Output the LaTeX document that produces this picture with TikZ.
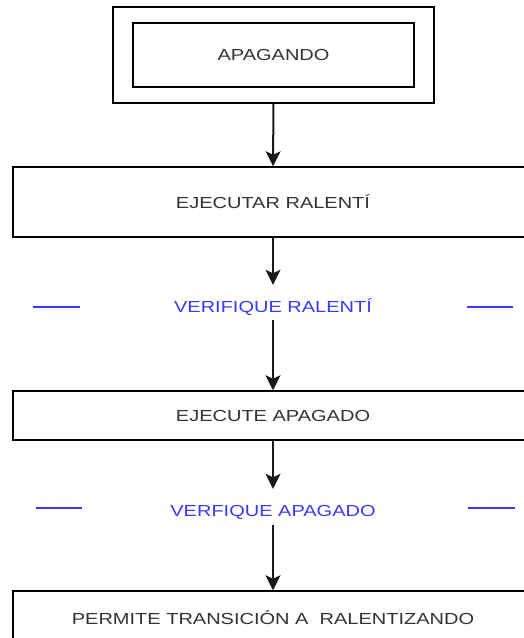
\documentclass[tikz,border=0pt]{standalone}
\usepackage{fontspec}
\setmainfont{Liberation Sans}
\usetikzlibrary{arrows.meta}
\definecolor{txtgray}{HTML}{333333}
\definecolor{vblue}{HTML}{3A3AF5}
\newcommand{\wtxt}[1]{\scalebox{1.25}[1]{#1}}
\tikzset{
  boxst/.style={draw=black, line width=1.5pt, fill=white, inner sep=0pt, text=txtgray, font=\fontsize{16pt}{17pt}\selectfont},
  lblst/.style={inner sep=0pt, text=vblue, font=\fontsize{16pt}{17pt}\selectfont},
  flow/.style={draw=black!90, line width=2pt, -{Stealth[width=15pt,length=15pt,inset=3.5pt]}},
  dashst/.style={draw=vblue, line width=2pt}
}
\begin{document}
\begin{tikzpicture}[x=1pt,y=-1pt]
\useasboundingbox (0,0) rectangle (524,638);
\clip (0,0) rectangle (524,638);
\node[boxst, minimum width=321pt, minimum height=96pt] (outer) at (273.5,55) {};
\node[boxst, minimum width=281pt, minimum height=64pt] (inner) at (273.5,55) {\wtxt{APAGANDO}};
\node[boxst, minimum width=520pt, minimum height=70pt] (run) at (273,202) {\wtxt{EJECUTAR RALENTÍ}};
\node[lblst, minimum height=35pt] (chk1) at (273,302.5) {};
\node[lblst] (chk1t) at (273,307) {\wtxt{VERIFIQUE RALENTÍ}};
\node[boxst, minimum width=520pt, minimum height=49pt] (off) at (273,415.5) {\wtxt{EJECUTE APAGADO}};
\node[lblst, minimum height=36pt] (chk2) at (273,507) {};
\node[lblst] (chk2t) at (273,512) {\wtxt{VERFIQUE APAGADO}};
\node[boxst, minimum width=520pt, minimum height=54pt] (perm) at (273,618) {\wtxt{PERMITE TRANSICIÓN A\ \ RALENTIZANDO}};
\coordinate (l1a) at (33,307); \coordinate (l1b) at (80,307);
\coordinate (r1a) at (467,307); \coordinate (r1b) at (513,307);
\coordinate (l2a) at (36,508); \coordinate (l2b) at (82,508);
\coordinate (r2a) at (468,508); \coordinate (r2b) at (515,508);
\draw[dashst] (l1a) -- (l1b);
\draw[dashst] (r1a) -- (r1b);
\draw[dashst] (l2a) -- (l2b);
\draw[dashst] (r2a) -- (r2b);
\draw[flow] (outer.south) -- (run.north);
\draw[flow] (run.south) -- (chk1.north);
\draw[flow] (chk1.south) -- (off.north);
\draw[flow] (off.south) -- (chk2.north);
\draw[flow] (chk2.south) -- (perm.north);
\end{tikzpicture}
\end{document}
